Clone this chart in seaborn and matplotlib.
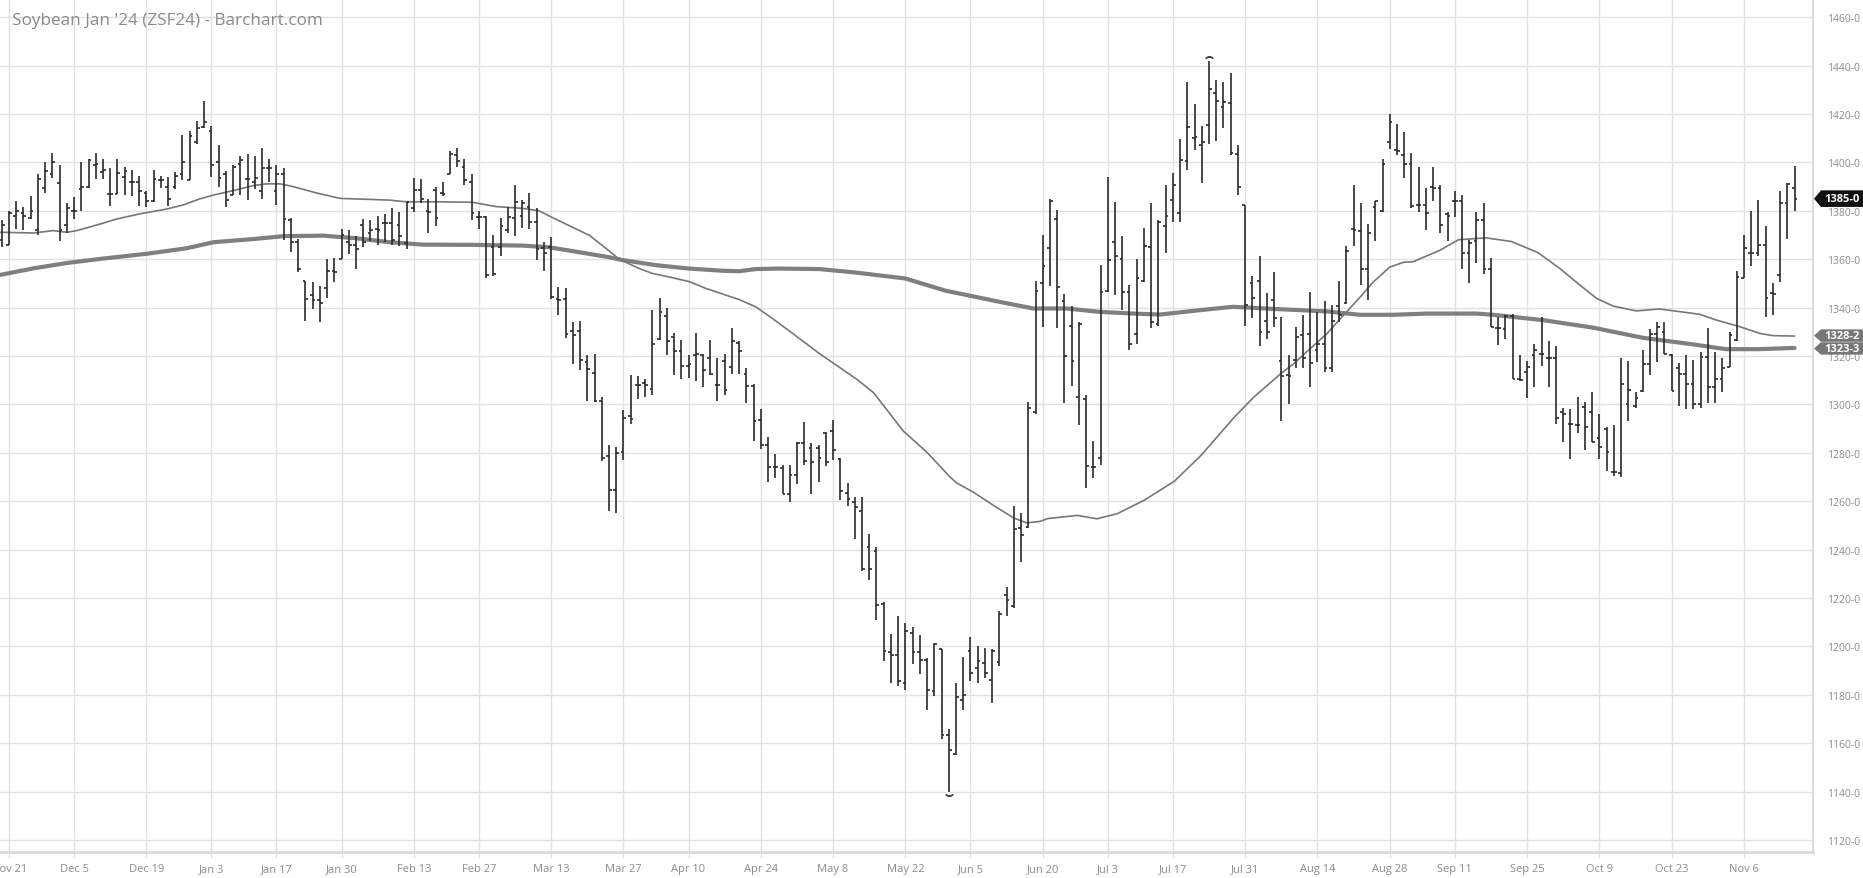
import matplotlib
matplotlib.use("Agg")
import matplotlib.pyplot as plt
from matplotlib.patches import Polygon
from matplotlib.transforms import IdentityTransform
import seaborn as sns
import numpy as np
import pandas as pd

# CBOT trading days in the window
holidays = ["2022-11-24", "2022-12-26", "2023-01-02", "2023-01-16", "2023-02-20",
            "2023-04-07", "2023-05-29", "2023-06-19", "2023-07-04", "2023-09-04"]
days = pd.bdate_range("2022-11-18", "2023-11-15")
days = days[~days.isin(pd.to_datetime(holidays))]

tick_dates = ["2022-11-21", "2022-12-05", "2022-12-19", "2023-01-03", "2023-01-17",
              "2023-01-30", "2023-02-13", "2023-02-27", "2023-03-13", "2023-03-27",
              "2023-04-10", "2023-04-24", "2023-05-08", "2023-05-22", "2023-06-05",
              "2023-06-20", "2023-07-03", "2023-07-17", "2023-07-31", "2023-08-14",
              "2023-08-28", "2023-09-11", "2023-09-25", "2023-10-09", "2023-10-23",
              "2023-11-06"]
tick_labels = ["Nov 21", "Dec 5", "Dec 19", "Jan 3", "Jan 17", "Jan 30", "Feb 13",
               "Feb 27", "Mar 13", "Mar 27", "Apr 10", "Apr 24", "May 8", "May 22",
               "Jun 5", "Jun 20", "Jul 3", "Jul 17", "Jul 31", "Aug 14", "Aug 28",
               "Sep 11", "Sep 25", "Oct 9", "Oct 23", "Nov 6"]

opens = [1368, 1366, 1378, 1379, 1377, 1372, 1389.5, 1395, 1391.5, 1374,
         1380, 1389, 1390, 1399, 1396, 1387, 1387, 1394, 1392, 1392,
         1387.5, 1384, 1392.5, 1390, 1390, 1395, 1392.5, 1408.5, 1414.5, 1413,
         1400, 1395, 1386.5, 1399.5, 1393, 1392, 1388, 1397.5, 1388, 1395,
         1376, 1367, 1351, 1345, 1343, 1348, 1355, 1360, 1367, 1366,
         1374, 1371, 1372.5, 1375, 1375, 1374, 1366.5, 1381, 1388.5, 1380,
         1388.5, 1387.5, 1395, 1403, 1398, 1392, 1377.5, 1377.5, 1365, 1365,
         1372, 1377, 1378, 1381.5, 1375.5, 1364.5, 1365, 1343.5, 1343.5, 1330.5,
         1330.5, 1317.5, 1313, 1301.5, 1278.5, 1264.5, 1280.5, 1295, 1308, 1309,
         1306.5, 1327, 1336.5, 1328, 1322, 1316, 1320.5, 1320.5, 1319, 1308,
         1318, 1315.5, 1325.5, 1312.5, 1307.5, 1293.5, 1283, 1274, 1273.5, 1263,
         1271, 1284, 1282, 1282, 1288, 1289, 1277.5, 1263.5, 1259.5, 1256,
         1241, 1239.5, 1217.5, 1197.5, 1196.5, 1185, 1205.5, 1197.5, 1194.5, 1181.5,
         1199, 1163.5, 1155.5, 1178, 1198, 1191, 1193, 1186, 1193.5, 1221,
         1216.5, 1249, 1249.5, 1297, 1350, 1364.5, 1376.5, 1342.5, 1332.5, 1303,
         1302, 1274, 1278, 1347, 1367, 1360, 1346.5, 1329, 1351, 1365,
         1333, 1373.5, 1384.5, 1379, 1400.5, 1410, 1407, 1415.5, 1428.5, 1423,
         1424.5, 1403.5, 1382.5, 1350, 1351, 1334.5, 1343, 1318, 1312, 1318.5,
         1328.5, 1329, 1322.5, 1325, 1315, 1340.5, 1342, 1372.5, 1371.5, 1356,
         1381.5, 1380, 1408.5, 1405, 1403, 1399.5, 1382.5, 1382.5, 1390, 1389.5,
         1378.5, 1384, 1384, 1362.5, 1367.5, 1376, 1356, 1331.5, 1331, 1336.5,
         1310.5, 1313.5, 1320.5, 1321, 1319, 1319, 1297, 1292, 1291.5, 1299,
         1297, 1286, 1290, 1272, 1271.5, 1300, 1299.5, 1305.5, 1316.5, 1329,
         1330, 1320.5, 1315, 1312.5, 1308.5, 1300, 1319.5, 1307, 1310.5, 1315.5,
         1326.5, 1352, 1362.5, 1362.5, 1366, 1346, 1353.5, 1383, 1389.5]
highs = [1376, 1380, 1384, 1381.5, 1386, 1395, 1400, 1404, 1399, 1383,
         1385.5, 1400, 1401.5, 1404, 1401.5, 1397.5, 1401.5, 1398, 1397, 1394.5,
         1388, 1397, 1394.5, 1394, 1396, 1411.5, 1413, 1417, 1425.5, 1415,
         1407, 1396.5, 1399, 1402.5, 1403.5, 1402.5, 1406, 1401.5, 1399, 1397.5,
         1377, 1368.5, 1351, 1350.5, 1349, 1360, 1360.5, 1372.5, 1372, 1369.5,
         1376.5, 1376, 1378, 1378.5, 1381, 1379.5, 1383.5, 1393.5, 1393, 1385,
         1390, 1392, 1404.5, 1406, 1401.5, 1395, 1380, 1378, 1370, 1377,
         1381.5, 1390.5, 1384.5, 1387.5, 1381, 1367, 1369, 1348.5, 1348, 1334,
         1334.5, 1320.5, 1321, 1303, 1283, 1282.5, 1297.5, 1312, 1311.5, 1310.5,
         1339, 1344, 1340, 1329.5, 1326.5, 1320.5, 1329.5, 1321, 1326.5, 1319,
         1321, 1331.5, 1326, 1315, 1308.5, 1298, 1286.5, 1279.5, 1275, 1275,
         1284.5, 1292.5, 1284, 1283, 1288.5, 1293.5, 1278, 1267.5, 1261.5, 1261.5,
         1246.5, 1241, 1218.5, 1205, 1212.5, 1209.5, 1208, 1204.5, 1195, 1201.5,
         1199, 1166, 1185, 1195.5, 1204, 1200, 1199.5, 1199, 1214.5, 1224.5,
         1258, 1255, 1301, 1351, 1370, 1385, 1380.5, 1345.5, 1340.5, 1334,
         1304, 1285, 1357.5, 1394, 1383.5, 1369.5, 1349.5, 1360, 1373, 1383,
         1376, 1390.5, 1395.5, 1409.5, 1433, 1424, 1415, 1442, 1434, 1433,
         1437, 1407, 1382.5, 1353, 1361.5, 1346, 1354.5, 1336, 1320.5, 1332,
         1337, 1346.5, 1338, 1342.5, 1341, 1351, 1365.5, 1390.5, 1383, 1374.5,
         1384, 1401.5, 1420, 1416, 1412.5, 1404, 1398, 1389.5, 1398, 1390.5,
         1379.5, 1388, 1386.5, 1368, 1379.5, 1383, 1360.5, 1336, 1337, 1337.5,
         1320.5, 1318, 1325, 1336, 1326, 1324, 1298.5, 1298, 1303, 1301,
         1305, 1296, 1290.5, 1291.5, 1319, 1318, 1305, 1322.5, 1331, 1334,
         1334, 1321, 1317, 1320.5, 1318.5, 1321.5, 1331.5, 1321.5, 1319, 1330,
         1355, 1370, 1380, 1384.5, 1373.5, 1350, 1388, 1391.5, 1398.5]
lows = [1365, 1366, 1372.5, 1372, 1376.5, 1370, 1387.5, 1393.5, 1367.5, 1371,
        1376.5, 1380, 1389.5, 1393, 1393, 1382, 1387, 1386.5, 1386, 1382,
        1381.5, 1383.5, 1389.5, 1382, 1389, 1392.5, 1392.5, 1407.5, 1414, 1394,
        1390, 1381.5, 1386.5, 1386.5, 1384.5, 1389, 1385, 1392, 1382.5, 1368,
        1363, 1354.5, 1334.5, 1339.5, 1334, 1344, 1350.5, 1360, 1362, 1356,
        1365, 1367.5, 1366, 1367, 1366, 1365.5, 1364, 1379.5, 1383, 1371,
        1373.5, 1386, 1395, 1398, 1390.5, 1376, 1372.5, 1352, 1353, 1361.5,
        1371, 1369.5, 1373, 1372.5, 1359.5, 1355, 1343.5, 1337, 1327.5, 1316.5,
        1314, 1301.5, 1301, 1276.5, 1256, 1255, 1277, 1292, 1302, 1303,
        1304, 1326.5, 1320.5, 1312, 1310.5, 1311, 1309.5, 1307, 1312, 1301.5,
        1304, 1312.5, 1312.5, 1300.5, 1285, 1281.5, 1268, 1269.5, 1263, 1259.5,
        1267, 1275, 1263, 1268, 1274.5, 1277, 1260.5, 1258, 1244.5, 1231,
        1227.5, 1211, 1194, 1185, 1183.5, 1182, 1192.5, 1188.5, 1173.5, 1179.5,
        1161.5, 1140, 1155, 1173.5, 1185.5, 1185, 1187, 1176.5, 1192, 1212.5,
        1216, 1235, 1249, 1296, 1332, 1349, 1331.5, 1300.5, 1307.5, 1291.5,
        1265.5, 1269.5, 1275, 1346.5, 1345, 1339, 1322.5, 1325, 1350.5, 1331.5,
        1332.5, 1362.5, 1375.5, 1375.5, 1397, 1405, 1391.5, 1407.5, 1409, 1414,
        1403, 1386.5, 1332.5, 1335.5, 1324, 1327, 1332, 1293, 1300, 1315,
        1315, 1307, 1317.5, 1313.5, 1313.5, 1334, 1341.5, 1365.5, 1349.5, 1343,
        1367.5, 1379.5, 1405.5, 1403, 1393.5, 1381, 1379.5, 1372, 1384, 1371,
        1367.5, 1377.5, 1356, 1350, 1358.5, 1354, 1332, 1324.5, 1327, 1310.5,
        1309.5, 1302.5, 1307, 1316, 1307, 1292, 1284.5, 1277.5, 1288, 1281,
        1284.5, 1277.5, 1272.5, 1270.5, 1270, 1293, 1298.5, 1305, 1312, 1317.5,
        1321, 1305.5, 1299.5, 1298, 1298, 1298.5, 1300.5, 1300.5, 1305, 1315.5,
        1326, 1352, 1357, 1361.5, 1336, 1337, 1350.5, 1368.5, 1380]
closes = [1374, 1379, 1380, 1378, 1380, 1393, 1396.5, 1400, 1372, 1381,
          1380, 1390, 1401, 1399.5, 1397, 1387, 1395.5, 1396.5, 1392, 1388,
          1384, 1393, 1392.5, 1385, 1394.5, 1400, 1411, 1414, 1416.5, 1399,
          1393.5, 1384.5, 1398, 1401, 1393, 1393.5, 1397.5, 1397.5, 1395, 1376.5,
          1367, 1356, 1343.5, 1343, 1342, 1355, 1354.5, 1370, 1366, 1364,
          1367, 1372, 1372, 1375, 1368, 1369.5, 1383.5, 1388.5, 1385, 1379.5,
          1377, 1387, 1403.5, 1400.5, 1392.5, 1379, 1377.5, 1353.5, 1354, 1373.5,
          1377.5, 1383.5, 1383, 1375.5, 1364, 1362.5, 1344.5, 1343, 1329, 1328.5,
          1318.5, 1314.5, 1301.5, 1278, 1264.5, 1280, 1294.5, 1294, 1308, 1308,
          1325, 1338, 1326, 1322, 1316, 1316.5, 1321, 1314, 1312.5, 1308,
          1306, 1326, 1322, 1307.5, 1293, 1283, 1274, 1274, 1263, 1271,
          1284, 1276.5, 1276, 1278, 1276, 1281, 1264, 1261, 1257.5, 1232,
          1232, 1217, 1198, 1196.5, 1185.5, 1206.5, 1197.5, 1194.5, 1182, 1201,
          1163.5, 1157, 1179, 1180, 1189, 1194, 1189, 1198, 1213.5, 1219,
          1248.5, 1246, 1298.5, 1347, 1357, 1384, 1348.5, 1320, 1318, 1333,
          1274.5, 1274, 1346.5, 1359.5, 1361.5, 1346.5, 1325, 1352, 1365.5, 1334,
          1375.5, 1378, 1390.5, 1401, 1414.5, 1410.5, 1408.5, 1430.5, 1425.5, 1425,
          1404, 1390, 1341, 1344, 1330, 1330, 1335.5, 1311.5, 1311.5, 1328,
          1319, 1317, 1325, 1315, 1334.5, 1337, 1363.5, 1372, 1356, 1371,
          1384, 1399.5, 1416.5, 1404.5, 1399.5, 1382, 1382.5, 1379, 1389.5, 1374,
          1378, 1384, 1362.5, 1366.5, 1376, 1356, 1332, 1331.5, 1336.5, 1310.5,
          1310, 1315.5, 1322.5, 1321, 1319, 1294.5, 1296, 1292, 1291.5, 1290.5,
          1284.5, 1282.5, 1280.5, 1272, 1308.5, 1306, 1302.5, 1316.5, 1329, 1332,
          1321, 1305.5, 1312.5, 1308.5, 1300, 1319.5, 1307, 1310.5, 1315, 1328.5,
          1352.5, 1364.5, 1362.5, 1366, 1344, 1345.5, 1383, 1391, 1385]

# moving averages (bar position, price)
ma_fast_pos = [-0.2, 4.4, 7.1, 9, 10.4, 13.6, 15.9, 19.1, 22.8, 25.1, 27.4, 29.3, 32, 34.8,
               36.6, 38.5, 40, 43.6, 46.8, 53.6, 55.9, 60.5, 65.1, 68.4, 72, 74.3, 76.5,
               81.3, 83.6, 85.4, 88.2, 90, 92.8, 95.1, 97.4, 100.2, 102, 104.3, 106.6,
               109.4, 113.1, 118.3, 120.6, 124.7, 128, 131.2, 132.1, 134.4, 137.2, 140,
               141.8, 143.6, 144.7, 148.8, 151.5, 154.3, 158, 162.2, 165.9, 170.5, 173.2,
               176.9, 178.7, 183.3, 185.6, 187.9, 189.7, 192, 193.9, 195.2, 198.9, 201.5,
               205.3, 208.8, 212.5, 215.5, 218.3, 220.6, 222.9, 226.1, 229.3, 234.9,
               237.2, 240.4, 243.2, 245, 248]
ma_fast_val = [1371.1, 1370.8, 1371.8, 1371.1, 1371.8, 1374.5, 1376.6, 1378.7, 1380.7,
               1382.4, 1384.9, 1386.5, 1388.3, 1390.4, 1391.1, 1391.1, 1390.2, 1387.3,
               1385.1, 1384.4, 1383.7, 1383.7, 1383.5, 1381.7, 1381, 1380, 1376.7,
               1369.8, 1364.4, 1360, 1356.1, 1354.1, 1352.3, 1350.7, 1347.9, 1345.1,
               1343.3, 1340.3, 1335.5, 1329.3, 1321, 1310.3, 1304.8, 1289, 1280.1,
               1269.9, 1267.5, 1263.7, 1258.2, 1253, 1251, 1251.6, 1252.8, 1254.1,
               1252.7, 1254.8, 1260.3, 1268.2, 1278.9, 1294.7, 1303, 1312.6, 1316.8,
               1329.2, 1336.8, 1344.3, 1350.5, 1356.7, 1358.7, 1358.9, 1363.6, 1368,
               1368.8, 1367.3, 1362.7, 1356.2, 1349.3, 1343.8, 1340.6, 1338.6, 1339.4,
               1337.2, 1334.8, 1332.1, 1329.3, 1328.4, 1328.2]
ma_slow_pos = [-0.2, 4.4, 9, 13.6, 20, 25.6, 29.3, 34.8, 39, 44.5, 49.1, 53.6, 58.2, 65.1,
               72, 75.7, 79, 83.6, 85.9, 90.5, 95.1, 99.7, 102, 104.3, 107.5, 113.1, 118,
               125, 130.5, 138.1, 142.7, 147.3, 151.9, 156.5, 160.2, 165.7, 170.3, 176.8,
               183.3, 187.9, 192.5, 197.1, 204, 206.3, 213.2, 220.1, 227, 233.9, 238.5,
               243.1, 248]
ma_slow_val = [1353.5, 1356.2, 1358.4, 1360.1, 1362.2, 1364.5, 1367, 1368.3, 1369.5,
               1369.7, 1368.6, 1367, 1366, 1365.9, 1365.6, 1364.9, 1363.3, 1361, 1359.6,
               1357.5, 1356.1, 1355.2, 1355, 1355.9, 1356.1, 1355.9, 1354.5, 1352, 1347,
               1342.3, 1339.6, 1339.6, 1338.2, 1337.5, 1337.1, 1338.9, 1340.3, 1339.3,
               1338.4, 1337, 1337, 1337.5, 1337.5, 1337, 1334.8, 1331.7, 1327.5, 1324.8,
               1322.8, 1322.8, 1323.3]

last_price = "1385-0"
ma_fast_tag = "1328-2"
ma_slow_tag = "1323-3"

sns.set_theme(style="white")
plt.rcParams["font.family"] = ["Open Sans", "DejaVu Sans"]

W, H = 1863, 879
fig = plt.figure(figsize=(W / 100, H / 100), dpi=100)
ax = fig.add_axes([0, 1 - 853 / H, 1813 / W, 853 / H])

df = pd.DataFrame({"date": days, "open": opens, "high": highs, "low": lows, "close": closes})
df["i"] = np.arange(len(df))

bar_col = "#2a2a2a"
tk = 0.38
ax.vlines(df["i"], df["low"], df["high"], color=bar_col, lw=1.2, zorder=3)
ax.hlines(df["open"], df["i"] - tk, df["i"], color=bar_col, lw=1.2, zorder=3)
ax.hlines(df["close"], df["i"], df["i"] + tk, color=bar_col, lw=1.2, zorder=3)

sns.lineplot(x=ma_slow_pos, y=ma_slow_val, ax=ax, color="#7f7f7f", lw=3.0,
             sort=False, estimator=None, zorder=2)
sns.lineplot(x=ma_fast_pos, y=ma_fast_val, ax=ax, color="#777777", lw=1.2,
             sort=False, estimator=None, zorder=2)

# high / low markers
hi = df.loc[df["high"].idxmax()]
lo = df.loc[df["low"].idxmin()]
ax.plot([hi["i"]], [hi["high"] + 1.6], marker=r"$\frown$", ms=5, color="#444444", zorder=4)
ax.plot([lo["i"]], [lo["low"] - 1.6], marker=r"$\smile$", ms=5, color="#444444", zorder=4)

ax.set_xlim(-0.245, 250.55)
ax.set_ylim(1115.0, 1467.5)

tick_pos = [days.get_loc(pd.Timestamp(d)) for d in tick_dates]
ax.set_xticks(tick_pos)
ax.set_xticklabels(tick_labels)
yt = np.arange(1120, 1461, 20)
ax.set_yticks(yt)
ax.set_yticklabels([f"{v}-0" for v in yt])
ax.yaxis.tick_right()
ax.grid(True, color="#e1e1e1", lw=1.0)
ax.set_axisbelow(True)
ax.tick_params(axis="y", length=0, pad=10, labelsize=7.5, labelcolor="#8c8c8c")
ax.tick_params(axis="x", length=4, width=0.8, color="#dddddd", pad=4,
               labelsize=8, labelcolor="#8c8c8c", bottom=True)
for s in ["top", "left"]:
    ax.spines[s].set_visible(False)
ax.spines["right"].set_color("#d6d6d6")
ax.spines["bottom"].set_color("#dcdcdc")
ax.spines["bottom"].set_linewidth(2)

ax.text(12 / 1813, 1 - 21 / 853, "Soybean Jan '24 (ZSF24) - Barchart.com",
        transform=ax.transAxes, ha="left", va="center", fontsize=12.3, color="#8a8a8a")


def price_tag(price, label, face, half):
    yc = ax.transData.transform((0, price))[1]
    pts = [(1814, yc), (1821, yc + half), (1863, yc + half), (1863, yc - half), (1821, yc - half)]
    fig.add_artist(Polygon(pts, closed=True, facecolor=face, edgecolor="none",
                           transform=IdentityTransform(), zorder=5))
    fig.text(1842 / W, yc / H, label, ha="center", va="center", color="white",
             fontsize=8, fontweight="bold", zorder=6)


price_tag(1385.0, last_price, "#111111", 8.3)
price_tag(1328.4, ma_fast_tag, "#777777", 6.2)
price_tag(1323.1, ma_slow_tag, "#777777", 6.2)

fig.savefig("out.png", dpi=100)
